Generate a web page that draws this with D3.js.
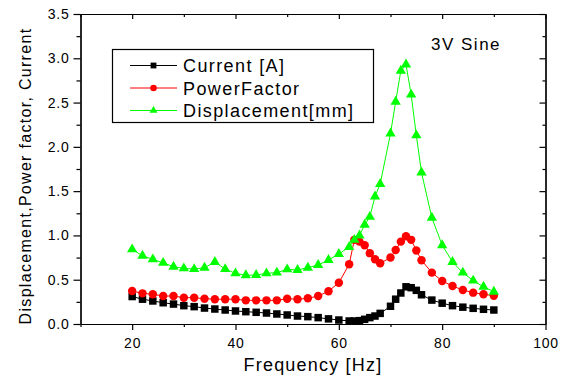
<!DOCTYPE html>
<html>
<head>
<meta charset="utf-8">
<script src="https://cdn.jsdelivr.net/npm/d3@7"></script>
<style>
  body { margin: 0; background: #fff; }
  text { font-family: Arial, "Liberation Sans", sans-serif; fill: #000; }
</style>
</head>
<body>
<svg id="chart" width="565" height="381"></svg>
<script>
// frequency steps of the sweep [Hz]
const freq = [20,22,24,26,28,30,32,34,36,38,40,42,44,46,48,50,52,54,56,58,60,
              62,63,64,65,66,67,68,70,71,72,73,74,75,76,78,80,82,84,86,88,90]

const current = [0.31,0.28,0.26,0.24,0.225,0.207,0.196,0.18,0.169,0.158,0.147,0.139,0.132,0.124,0.113,0.102,0.09,0.083,0.072,0.058,0.045,
                 0.034,0.034,0.038,0.053,0.072,0.09,0.12,0.2,0.28,0.35,0.42,0.41,0.38,0.33,0.27,0.235,0.207,0.19,0.177,0.166,0.158]

const powerFactor = [0.372,0.346,0.335,0.316,0.316,0.297,0.297,0.286,0.28,0.28,0.28,0.267,0.267,0.267,0.267,0.286,0.28,0.29,0.316,0.37,0.466,
                     0.674,0.95,0.93,0.89,0.8,0.73,0.685,0.75,0.835,0.93,0.99,0.95,0.83,0.72,0.58,0.486,0.429,0.384,0.354,0.335,0.32]

const displacement = [0.843,0.77,0.73,0.69,0.647,0.628,0.62,0.636,0.70,0.62,0.572,0.55,0.553,0.572,0.58,0.617,0.61,0.636,0.666,0.723,0.79,
                      0.87,0.95,1.0,1.12,1.21,1.44,1.58,2.15,2.51,2.86,2.93,2.59,2.13,1.71,1.20,0.89,0.70,0.58,0.49,0.42,0.365]

const xTicks = [20,40,60,80,100]
const xMinor = [10,30,50,70,90]
const yTicks = [0,0.5,1,1.5,2,2.5,3,3.5]
const yMinor = [0.25,0.75,1.25,1.75,2.25,2.75,3.25]

const series = [
  {name: "Current [A]", values: current, color: "#000000", shape: d3.symbolSquare, size: 56},
  {name: "PowerFactor", values: powerFactor, color: "#ff0000", shape: d3.symbolCircle, size: 56},
  {name: "Displacement[mm]", values: displacement, color: "#00ff00", shape: d3.symbolTriangle, size: 46}
]

const svg = d3.select("#chart")
svg.append("rect").attr("width", 565).attr("height", 381).attr("fill", "#fff")

const x = d3.scaleLinear().domain([10, 100]).range([80.5, 545.5])
const y = d3.scaleLinear().domain([0, 3.5]).range([324, 14])

// axes
const styleAxis = g => {
  g.selectAll("path, line").attr("stroke", "#000").attr("stroke-width", 1.2)
  g.selectAll("text").attr("font-size", 14).attr("letter-spacing", 0.8)
    .attr("font-family", "Arial, 'Liberation Sans', sans-serif")
}

svg.append("g").attr("transform", "translate(0,324)")
  .call(d3.axisBottom(x).tickValues(xTicks).tickSize(6).tickPadding(8).tickSizeOuter(0))
  .call(styleAxis)
svg.append("g").attr("transform", "translate(0,324)")
  .call(d3.axisBottom(x).tickValues(xMinor).tickSize(3).tickFormat("").tickSizeOuter(0))
  .call(styleAxis)
svg.append("g").attr("transform", "translate(0,14)")
  .call(d3.axisTop(x).tickValues(xTicks).tickSize(-5).tickFormat("").tickSizeOuter(0))
  .call(styleAxis)
svg.append("g").attr("transform", "translate(0,14)")
  .call(d3.axisTop(x).tickValues(xMinor).tickSize(-3).tickFormat("").tickSizeOuter(0))
  .call(styleAxis)

svg.append("g").attr("transform", "translate(80.5,0)")
  .call(d3.axisLeft(y).tickValues(yTicks).tickSize(7).tickPadding(4).tickFormat(d3.format(".1f")).tickSizeOuter(0))
  .call(styleAxis)
svg.append("g").attr("transform", "translate(80.5,0)")
  .call(d3.axisLeft(y).tickValues(yMinor).tickSize(4).tickFormat("").tickSizeOuter(0))
  .call(styleAxis)
svg.append("g").attr("transform", "translate(545.5,0)")
  .call(d3.axisRight(y).tickValues(yTicks).tickSize(-6).tickFormat("").tickSizeOuter(0))
  .call(styleAxis)
svg.append("g").attr("transform", "translate(545.5,0)")
  .call(d3.axisRight(y).tickValues(yMinor).tickSize(-3).tickFormat("").tickSizeOuter(0))
  .call(styleAxis)

// axis titles
svg.append("text")
  .attr("x", (x.range()[0] + x.range()[1]) / 2).attr("y", 371)
  .attr("text-anchor", "middle").attr("font-size", 18).attr("letter-spacing", 1.2)
  .text("Frequency [Hz]")

svg.append("text")
  .attr("transform", "translate(31,176) rotate(-90)")
  .attr("text-anchor", "middle").attr("font-size", 16).attr("letter-spacing", 1.3)
  .text("Displacement,Power factor, Current")

// series lines + markers
const line = d3.line().x((d, i) => x(freq[i])).y(d => y(d))

series.forEach(s => {
  svg.append("path").datum(s.values)
    .attr("d", line).attr("fill", "none")
    .attr("stroke", s.color).attr("stroke-width", 1)
  svg.append("g").selectAll("path")
    .data(s.values).join("path")
    .attr("transform", (d, i) => `translate(${x(freq[i])},${y(d)})`)
    .attr("d", d3.symbol().type(s.shape).size(s.size))
    .attr("fill", s.color)
})

// legend
const legend = svg.append("g")
legend.append("rect")
  .attr("x", 112.5).attr("y", 49.5).attr("width", 261).attr("height", 73)
  .attr("fill", "#fff").attr("stroke", "#000").attr("stroke-width", 1.2)

series.forEach((s, i) => {
  const ly = 65.5 + i * 22.5
  legend.append("line").attr("x1", 130).attr("x2", 177).attr("y1", ly).attr("y2", ly)
    .attr("stroke", s.color).attr("stroke-width", 1)
  legend.append("path").attr("transform", `translate(153.5,${ly})`)
    .attr("d", d3.symbol().type(s.shape).size(s.size * 0.6)).attr("fill", s.color)
  legend.append("text").attr("x", 183).attr("y", ly + 6.5)
    .attr("font-size", 18).attr("letter-spacing", 1.4)
    .text(s.name)
})

svg.append("text").attr("x", 431).attr("y", 50)
  .attr("font-size", 17).attr("letter-spacing", 1.5)
  .text("3V Sine")
</script>
</body>
</html>
